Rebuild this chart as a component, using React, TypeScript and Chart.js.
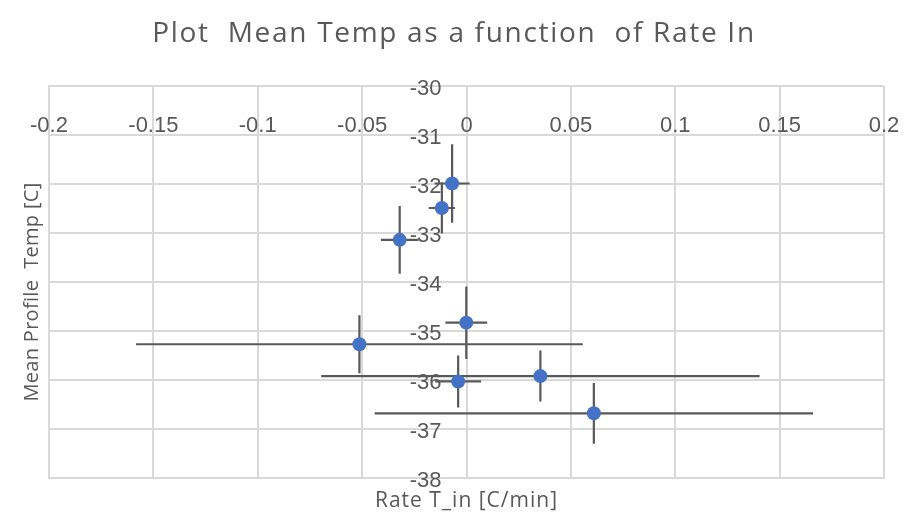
import React, { useEffect, useRef } from "react";
import { Chart, registerables } from "chart.js";

Chart.register(...registerables);

// ---- data ----
const rateIn = [-0.0069, -0.0118, -0.032, -0.0513, -0.0001, -0.004, 0.0354, 0.061];
const meanTemp = [-31.99, -32.49, -33.14, -35.27, -34.83, -36.03, -35.92, -36.68];
const rateErr = [0.0084, 0.0063, 0.009, 0.107, 0.01, 0.011, 0.105, 0.105];
const tempErr = [0.8, 0.52, 0.69, 0.59, 0.74, 0.53, 0.52, 0.62];

const xTickValues = [-0.2, -0.15, -0.1, -0.05, 0, 0.05, 0.1, 0.15, 0.2];
const xTickLabels = ["-0.2", "-0.15", "-0.1", "-0.05", "0", "0.05", "0.1", "0.15", "0.2"];
const yTickValues = [-30, -31, -32, -33, -34, -35, -36, -37, -38];
const yTickLabels = ["-30", "-31", "-32", "-33", "-34", "-35", "-36", "-37", "-38"];

const chartTitle = "Plot  Mean Temp as a function  of Rate In";
const xTitle = "Rate T_in [C/min]";
const yTitle = "Mean Profile  Temp [C]";

const TEXT = "#595959";
const GRID = "#d9d9d9";
const BAR = "#595959";
const BLUE = "#4472C4";

const labelsPlugin = {
  id: "excelLabels",
  beforeDatasetsDraw(chart: any) {
    const { ctx, chartArea, scales } = chart;
    const x = scales.x;
    const y = scales.y;
    ctx.save();
    ctx.fillStyle = TEXT;
    ctx.font = "22px 'Liberation Sans', Arial, sans-serif";
    ctx.textAlign = "center";
    ctx.textBaseline = "alphabetic";
    xTickValues.forEach((v, i) => {
      ctx.fillText(xTickLabels[i], x.getPixelForValue(v), chartArea.top + 46);
    });
    const x0 = x.getPixelForValue(0);
    ctx.textAlign = "right";
    ctx.textBaseline = "middle";
    yTickValues.forEach((v, i) => {
      ctx.fillText(yTickLabels[i], x0 - 25, y.getPixelForValue(v) + 3);
    });
    ctx.strokeStyle = BAR;
    ctx.lineWidth = 2.2;
    ctx.lineCap = "butt";
    rateIn.forEach((xv, i) => {
      const yv = meanTemp[i];
      const px = x.getPixelForValue(xv);
      const py = y.getPixelForValue(yv);
      ctx.beginPath();
      ctx.moveTo(x.getPixelForValue(xv - rateErr[i]), py);
      ctx.lineTo(x.getPixelForValue(xv + rateErr[i]), py);
      ctx.moveTo(px, y.getPixelForValue(yv + tempErr[i]));
      ctx.lineTo(px, y.getPixelForValue(yv - tempErr[i]));
      ctx.stroke();
    });
    ctx.restore();
  },
  afterDraw(chart: any) {
    const { ctx, chartArea } = chart;
    ctx.save();
    ctx.fillStyle = TEXT;
    ctx.textAlign = "center";
    ctx.textBaseline = "alphabetic";
    ctx.font = "28px 'Open Sans', sans-serif";
    (ctx as any).letterSpacing = "1.7px";
    ctx.fillText(chartTitle, 454, 42);
    ctx.font = "21px 'Open Sans', sans-serif";
    (ctx as any).letterSpacing = "1px";
    ctx.fillText(xTitle, (chartArea.left + chartArea.right) / 2, 507);
    (ctx as any).letterSpacing = "0.3px";
    ctx.font = "20px 'Open Sans', sans-serif";
    ctx.translate(32, 292);
    ctx.rotate(-Math.PI / 2);
    ctx.textBaseline = "middle";
    ctx.fillText(yTitle, 0, 0);
    ctx.restore();
  },
};

export default function App() {
  const ref = useRef<HTMLCanvasElement | null>(null);
  useEffect(() => {
    if (!ref.current) return;
    const chart = new Chart(ref.current, {
      type: "scatter",
      data: {
        datasets: [
          {
            label: "Mean Temp",
            data: rateIn.map((v, i) => ({ x: v, y: meanTemp[i] })),
            backgroundColor: BLUE,
            borderColor: BLUE,
            pointRadius: 7,
            pointHoverRadius: 7,
            borderWidth: 0,
          },
        ],
      },
      options: {
        animation: false,
        responsive: false,
        devicePixelRatio: 1,
        layout: { padding: { left: 49, top: 86, right: 19, bottom: 37 } },
        plugins: {
          legend: { display: false },
          title: { display: false },
          tooltip: { enabled: false },
        },
        scales: {
          x: {
            type: "linear",
            min: -0.2,
            max: 0.2,
            afterBuildTicks: (s: any) => {
              s.ticks = xTickValues.map((v) => ({ value: v }));
            },
            ticks: { display: false },
            grid: { color: GRID, lineWidth: 2, drawTicks: false },
            border: { color: GRID, width: 2 },
          },
          y: {
            type: "linear",
            min: -38,
            max: -30,
            afterBuildTicks: (s: any) => {
              s.ticks = yTickValues.map((v) => ({ value: v }));
            },
            ticks: { display: false },
            grid: { color: GRID, lineWidth: 2, drawTicks: false },
            border: { color: GRID, width: 2 },
          },
        },
      },
      plugins: [labelsPlugin],
    });
    return () => chart.destroy();
  }, []);
  return (
    <div style={{ position: "fixed", left: 0, top: 0, width: 903, height: 515, background: "#fff" }}>
      <canvas ref={ref} width={903} height={515} />
    </div>
  );
}
